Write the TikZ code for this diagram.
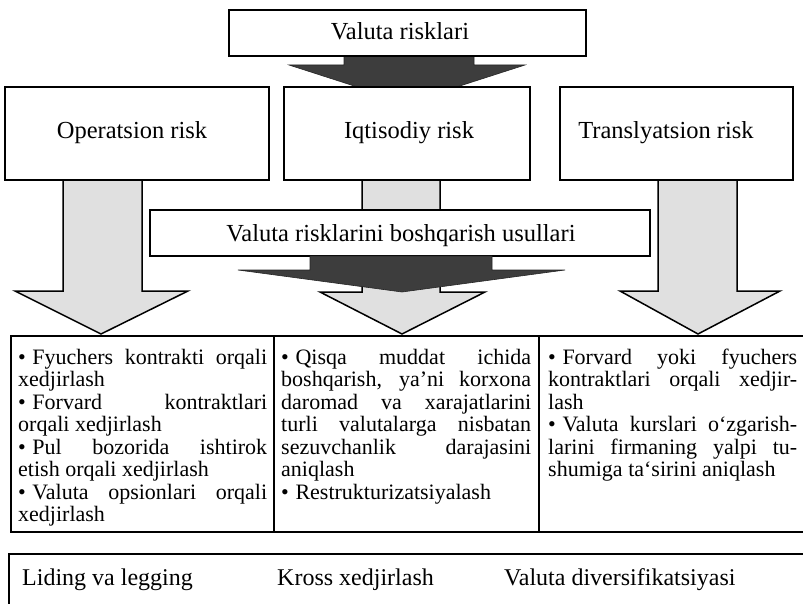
\documentclass[tikz,border=0pt]{standalone}
\usepackage{fontspec}
\setmainfont{Liberation Serif}
\tikzset{
  box/.style={draw=black, line width=1.5bp, fill=white, inner sep=0pt},
  lbl/.style={anchor=base, inner sep=0pt, font=\fontsize{24.5bp}{29bp}\selectfont},
  blbl/.style={anchor=base west, inner sep=0pt, font=\fontsize{24bp}{29bp}\selectfont},
  celltext/.style={anchor=north west, inner sep=0pt, text width=249bp, align=justify,
    font=\fontsize{22bp}{22.5bp}\selectfont},
  lightarrow/.style={draw=black, line width=1.5bp, fill=black!12, line join=miter},
  darkarrow/.style={fill=black!76, draw=black!85, line width=0.6bp},
}
\newcommand{\bul}{\textbullet\hspace{0.3em}}
\newcommand{\cellsetup}{\tolerance=10000 \hbadness=10000 \hyphenpenalty=10000 \strut}
\begin{document}
\begin{tikzpicture}[x=1bp,y=-1bp]
\useasboundingbox (0,0) rectangle (803,604);
\clip (0,0) rectangle (803,604);
\fill[white] (0,0) rectangle (803,604);

% dark arrow from the top box
\draw[darkarrow] (344,55) -- (344,65) -- (289,65) -- (407,103) -- (525,65) -- (474,65) -- (474,55) -- cycle;

% light arrows from the three risk boxes
\draw[lightarrow] (63,178) -- (63,291) -- (15,291) -- (101,334) -- (188,291) -- (142,291) -- (142,178);
\draw[lightarrow] (362,178) -- (362,292) -- (320,292) -- (402,334) -- (485,292) -- (440,292) -- (440,178);
\draw[lightarrow] (658,178) -- (658,291) -- (620,291) -- (698,334) -- (780,291) -- (737,291) -- (737,178);

% top box and risk boxes
\node[box, minimum width=357bp, minimum height=46bp] (top) at (407.5,33) {};
\node[lbl] (toplbl) at (400,40) {Valuta risklari};
\node[box, minimum width=264bp, minimum height=93bp] (op) at (137,133.5) {};
\node[box, minimum width=246bp, minimum height=93bp] (iq) at (407,133.5) {};
\node[box, minimum width=233bp, minimum height=93bp] (tr) at (676.5,133.5) {};
\node[lbl] (oplbl) at (132,139) {Operatsion risk};
\node[lbl] (iqlbl) at (409,139) {Iqtisodiy risk};
\node[lbl] (trlbl) at (666,139) {Translyatsion risk};

% methods box
\node[box, minimum width=500bp, minimum height=46bp] (usul) at (400,233) {};
\node[lbl] (usullbl) at (401,241) {Valuta risklarini boshqarish usullari};

% dark arrow under the methods box
\draw[darkarrow] (310,256) -- (310,270) -- (238,270) -- (402,292) -- (565,270) -- (492,270) -- (492,256) -- cycle;

% table
\node[box, anchor=north west, minimum width=263bp, minimum height=196bp] (c1) at (10,335) {};
\node[box, anchor=north west, minimum width=265bp, minimum height=196bp] (c2) at (273,335) {};
\node[box, anchor=north west, minimum width=290bp, minimum height=196bp] (c3) at (538,335) {};

\node[celltext] (t1) at (18,348.25) {\cellsetup\bul Fyuchers kontrakti orqali\linebreak xedjirlash\par
\bul Forvard kontraktlari\linebreak orqali xedjirlash\par
\bul Pul bozorida ishtirok\linebreak etish orqali xedjirlash\par
\bul Valuta opsionlari orqali\linebreak xedjirlash};

\node[celltext, text width=250bp] (t2) at (281,348.25) {\cellsetup\bul Qisqa muddat ichida\linebreak boshqarish, ya’ni korxona\linebreak daromad va xarajatlarini\linebreak turli valutalarga nisbatan\linebreak sezuvchanlik darajasini\linebreak aniqlash\par
\bul Restrukturizatsiyalash};

\node[celltext] (t3) at (548,348.25) {\cellsetup\bul Forvard yoki fyuchers\linebreak kontraktlari orqali xedjir-\linebreak lash\par
\bul Valuta kurslari o‘zgarish-\linebreak larini firmaning yalpi tu-\linebreak shumiga ta‘sirini aniqlash};

% bottom box
\node[box, anchor=north west, minimum width=820bp, minimum height=80bp] (bot) at (8,553) {};
\node[blbl] (b1) at (22,585) {Liding va legging};
\node[blbl] (b2) at (277,585) {Kross xedjirlash};
\node[blbl] (b3) at (504,585) {Valuta diversifikatsiyasi};
\end{tikzpicture}
\end{document}
